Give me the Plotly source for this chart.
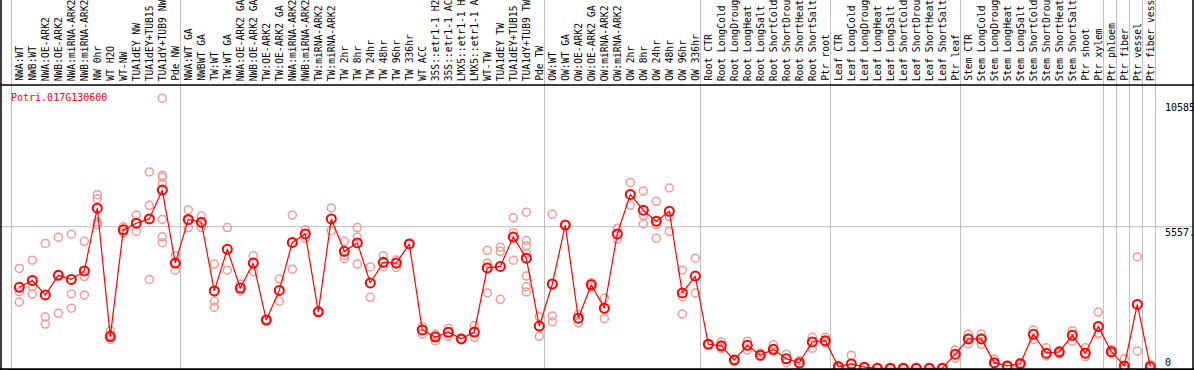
import plotly.graph_objects as go

W, H = 1194, 370

gene = "Potri.017G130600"

labels = [
    "NWA:WT", "NWB:WT", "NWA:OE-ARK2", "NWB:OE-ARK2", "NWA:miRNA-ARK2", "NWB:miRNA-ARK2",
    "NW 0hr", "WT H2O", "WT-NW", "TUA1dEY NW", "TUA1dEY+TUB15", "TUA1dY+TUB9 NW", "Pde NW",
    "NWA:WT GA", "NWBWT GA", "TW:WT", "TW:WT GA", "NWA:OE-ARK2 GA", "NWB:OE-ARK2 GA",
    "TW:OE-ARK2", "TW:OE-ARK2 GA", "NWA:miRNA-ARK2", "NWB:miRNA-ARK2", "TW:miRNA-ARK2",
    "TW:miRNA-ARK2", "TW 2hr", "TW 8hr", "TW 24hr", "TW 48hr", "TW 96hr", "TW 336hr",
    "WT ACC", "35S::etr1-1 H2", "35S::etr1-1 AC", "LMX5::etr1-1 H", "LMX5::etr1-1 A",
    "WT-TW", "TUA1dEY TW", "TUA1dEY+TUB15", "TUA1dY+TUB9 TW", "Pde TW",
    "OW:WT", "OW:WT GA", "OW:OE-ARK2", "OW:OE-ARK2 GA", "OW:miRNA-ARK2", "OW:miRNA-ARK2",
    "OW 2hr", "OW 8hr", "OW 24hr", "OW 48hr", "OW 96hr", "OW 336hr",
    "Root CTR", "Root LongCold", "Root LongDroug", "Root LongHeat", "Root LongSalt",
    "Root ShortCold", "Root ShortDrou", "Root ShortHeat", "Root ShortSalt", "Ptr root",
    "Leaf CTR", "Leaf LongCold", "Leaf LongDroug", "Leaf LongHeat", "Leaf LongSalt",
    "Leaf ShortCold", "Leaf ShortDrou", "Leaf ShortHeat", "Leaf ShortSalt", "Ptr leaf",
    "Stem CTR", "Stem LongCold", "Stem LongDroug", "Stem LongHeat", "Stem LongSalt",
    "Stem ShortCold", "Stem ShortDrou", "Stem ShortHeat", "Stem ShortSalt", "Ptr shoot",
    "Ptr xylem", "Ptr phloem", "Ptr fiber", "Ptr vessel", "Ptr fiber vess",
]

mean_values = [
    3180, 3450, 2880, 3650, 3490, 3820, 6280, 1250, 5430, 5690, 5860, 6990, 4130,
    5840, 5730, 3040, 4670, 3150, 4130, 1900, 3060, 4940, 5270, 2220, 5860,
    4590, 4920, 3350, 4160, 4130, 4880, 1510, 1230, 1420, 1160, 1430,
    3940, 4000, 5150, 4320, 1660,
    3310, 5620, 1970, 3280, 2360, 5270, 6820, 6200, 5770, 6160, 2960, 3620,
    950, 890, 330, 910, 520, 750, 380, 220, 1040, 1090,
    70, 180, 50, 10, 10, 10, 10, 10, 10, 560,
    1160, 1160, 230, 100, 190, 1340, 600, 650, 1300, 600,
    1650, 660, 100, 2510, 70,
]

replicates = [
    [3920, 3010, 2600], [4240, 3220, 2910], [4900, 2020, 1740], [5140, 2160, 3650],
    [5260, 2920, 2360], [4980, 3600, 2880], [6810, 6640, 5730, 5630], [1480, 1140, 1310],
    [5550, 5430, 5310], [6010, 5370, 5690], [7700, 6390, 3490],
    [10585, 7570, 7490, 7250, 5840, 5160, 4930], [4420, 3850, 4130],
    [6210, 5520, 5800], [5970, 5520, 5700], [4090, 2640, 2400], [5520, 3850],
    [3310, 3040], [4420, 3790], [1870, 1930], [3510, 2630], [6010, 3890],
    [5430, 5100], [2200, 2240], [6290, 5400],
    [4990, 4420, 4300], [5520, 5150, 4090], [3980, 2790], [4420, 3990], [4250, 3960],
    [4880, 4880], [1640, 1350], [1270, 1080, 1340], [1570, 1260], [1180, 1140],
    [1680, 1220], [4630, 4130, 2960], [4750, 4590, 2710], [5900, 5320, 4240],
    [6120, 5010, 4800, 4510, 3620, 3200, 3000], [2030, 1260],
    [6040, 2060, 1830], [5620, 5620], [2120, 1790], [3360, 3190], [2750, 1950],
    [5490, 5060], [7290, 6390], [6950, 6000, 5670], [6550, 5630, 5100],
    [7070, 5950, 5370], [3850, 2810, 2130], [4320, 2960],
    [970, 930], [1040, 850, 780], [360, 300], [1070, 720], [600, 460], [930, 670],
    [560, 230], [310, 180], [1220, 790], [1220, 1050, 1000],
    [10, 130], [520, 10, 10], [50, 40], [10, 0], [10, 0], [10, 0], [10, 0], [10, 0],
    [10, 0], [720, 400],
    [1180, 960, 1340], [950, 1180, 1350], [360, 180], [125, 80], [230, 150],
    [1510, 1140], [810, 490], [700, 570], [1480, 1070], [810, 460],
    [2210, 1380, 1350], [740, 600], [380, 0, 0], [4370, 690], [160, 0],
]

group_breaks = [-1, 12, 40, 52, 62, 72, 83, 84, 85, 86, 87]
axis_max = 10585
axis_mid = 5557.5
axis_tick_text = ["10585", "5557.", "0"]
axis_tick_vals = [axis_max, axis_mid, 0]

x_idx = list(range(len(labels)))
rep_x, rep_y = [], []
for i, reps in enumerate(replicates):
    for v in reps:
        rep_x.append(i)
        rep_y.append(v)

mono = "DejaVu Sans Mono"

fig = go.Figure()
fig.add_trace(go.Scatter(
    x=rep_x, y=rep_y, mode="markers",
    marker=dict(symbol="circle-open", size=8, color="#f09a9a", line=dict(width=1.5, color="#f09a9a")),
    hoverinfo="skip", showlegend=False,
))
fig.add_trace(go.Scatter(
    x=x_idx, y=mean_values, mode="lines+markers",
    line=dict(color="#ff0000", width=1.2),
    marker=dict(symbol="circle-open", size=9, color="#ff0000", line=dict(width=2, color="#ff0000")),
    showlegend=False,
))

# layout geometry
x0 = -19.3 / 13.0
x1 = x0 + W / 13.0
px_per_unit = 0.02553
y0 = -1.5 / px_per_unit
y1 = y0 + H / px_per_unit

def py_to_paper(py):
    return 1 - py / H

shapes = []
for b in group_breaks:
    shapes.append(dict(type="line", xref="x", yref="paper", x0=b + 0.4, x1=b + 0.4, y0=0, y1=1,
                       line=dict(color="#c0c0c0", width=1), layer="below"))
shapes.append(dict(type="line", xref="paper", yref="y", x0=0, x1=1, y0=axis_mid, y1=axis_mid,
                   line=dict(color="#c0c0c0", width=1), layer="below"))
# frame
shapes.append(dict(type="line", xref="paper", yref="paper", x0=0, x1=1, y0=py_to_paper(85), y1=py_to_paper(85),
                   line=dict(color="black", width=1.5)))
shapes.append(dict(type="line", xref="paper", yref="paper", x0=0, x1=1, y0=py_to_paper(369.3), y1=py_to_paper(369.3),
                   line=dict(color="black", width=2)))
shapes.append(dict(type="line", xref="paper", yref="paper", x0=1 / W, x1=1 / W, y0=0, y1=1,
                   line=dict(color="black", width=1.5)))
shapes.append(dict(type="line", xref="paper", yref="paper", x0=1193 / W, x1=1193 / W, y0=0, y1=1,
                   line=dict(color="black", width=1.5)))

annotations = []
for i, lab in enumerate(labels):
    annotations.append(dict(x=i, xref="x", y=py_to_paper(83), yref="paper", text=lab[:14],
                            textangle=-90, xanchor="center", yanchor="bottom", showarrow=False,
                            font=dict(family=mono, size=9.7, color="black")))
shifts = [-9, -5.5, 6]
for v, t, s in zip(axis_tick_vals, axis_tick_text, shifts):
    annotations.append(dict(x=1163 / W, xref="paper", y=v, yref="y", yshift=s, text=t,
                            xanchor="left", yanchor="middle", showarrow=False,
                            font=dict(family=mono, size=10, color="black")))
annotations.append(dict(x=9 / W, xref="paper", y=py_to_paper(97), yref="paper", text=gene,
                        xanchor="left", yanchor="middle", showarrow=False,
                        font=dict(family=mono, size=10, color="#ff0000")))

fig.update_layout(
    width=W, height=H,
    margin=dict(l=0, r=0, t=0, b=0),
    paper_bgcolor="white", plot_bgcolor="white",
    xaxis=dict(range=[x0, x1], visible=False, fixedrange=True),
    yaxis=dict(range=[y0, y1], visible=False, fixedrange=True),
    shapes=shapes, annotations=annotations,
)

fig.write_html("out.html",
               config={"displayModeBar": False},
               post_script="document.body.style.margin='0px';document.body.style.overflow='hidden';")
